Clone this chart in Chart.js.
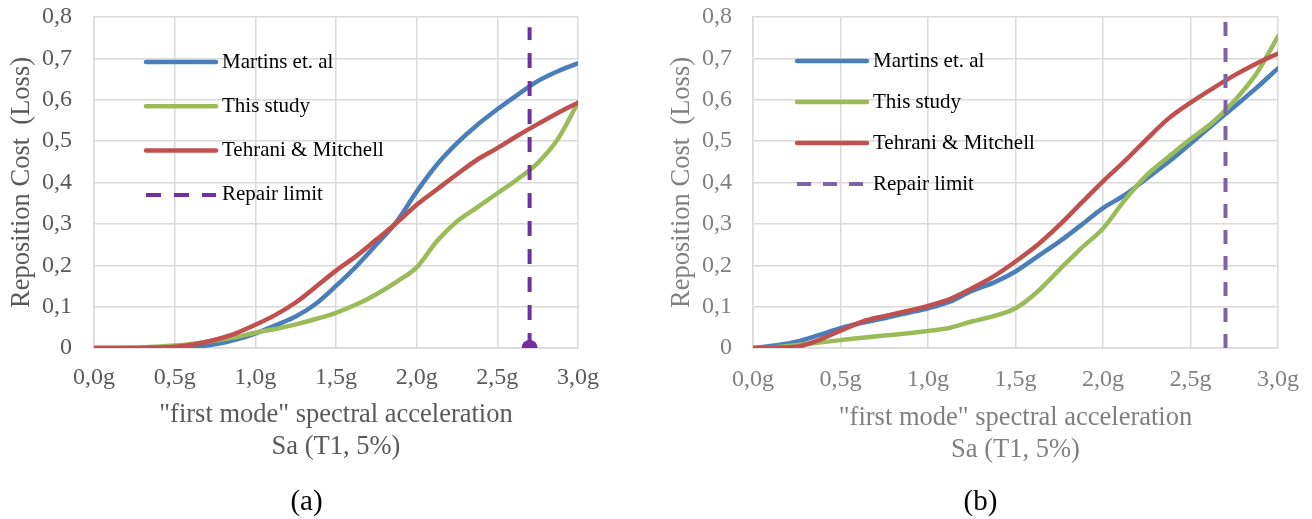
<!DOCTYPE html>
<html><head><meta charset="utf-8">
<script src="https://cdn.jsdelivr.net/npm/chart.js@4.4.1/dist/chart.umd.min.js"></script>
<style>
html,body{margin:0;padding:0;background:#fff;width:1312px;height:519px;overflow:hidden}
#wa{position:absolute;left:0;top:0;width:614px;height:519px}
#wb{position:absolute;left:648px;top:0;width:664px;height:519px}
</style></head><body>
<div id="wa"><canvas id="ca" width="614" height="519"></canvas></div>
<div id="wb"><canvas id="cb" width="664" height="519"></canvas></div>
<script>
// ---- data ----
const sa = [0,0.125,0.25,0.375,0.5,0.625,0.75,0.875,1,1.125,1.25,1.375,1.5,1.625,1.75,1.875,2,2.125,2.25,2.375,2.5,2.625,2.75,2.875,3];

const martinsA   = [0,0,0,0,0.0005,0.003,0.009,0.02,0.035,0.055,0.076,0.107,0.15,0.197,0.25,0.305,0.378,0.443,0.495,0.539,0.577,0.612,0.645,0.669,0.688];
const thisStudyA = [0,0,0.001,0.003,0.006,0.011,0.018,0.026,0.037,0.046,0.057,0.07,0.085,0.105,0.13,0.16,0.195,0.258,0.306,0.34,0.374,0.408,0.447,0.505,0.593];
const tehraniA   = [0,0,0,0.001,0.003,0.009,0.02,0.035,0.056,0.08,0.11,0.148,0.187,0.222,0.262,0.302,0.346,0.383,0.42,0.455,0.483,0.513,0.541,0.568,0.593];

const martinsB   = [0,0.006,0.015,0.031,0.048,0.061,0.072,0.084,0.096,0.112,0.138,0.158,0.185,0.221,0.257,0.297,0.338,0.37,0.41,0.45,0.494,0.539,0.583,0.628,0.676];
const thisStudyB = [0,0.002,0.007,0.013,0.019,0.025,0.03,0.035,0.041,0.049,0.064,0.077,0.096,0.136,0.189,0.241,0.289,0.358,0.418,0.462,0.505,0.545,0.597,0.662,0.753];
const tehraniB   = [0,0.001,0.003,0.019,0.042,0.064,0.077,0.089,0.102,0.118,0.144,0.173,0.209,0.249,0.297,0.35,0.403,0.452,0.505,0.555,0.593,0.627,0.659,0.687,0.712];

const repairLimitSa = 2.7;
const repairSpanA = [0, 0.775];
const repairSpanB = [0, 0.8];

const seriesNames = ['Martins et. al','This study','Tehrani & Mitchell','Repair limit'];
const xTickLabels = ['0,0g','0,5g','1,0g','1,5g','2,0g','2,5g','3,0g'];
const yTickLabels = ['0','0,1','0,2','0,3','0,4','0,5','0,6','0,7','0,8'];
const yTitle = 'Reposition Cost  (Loss)';
const xTitle = ['"first mode" spectral acceleration','Sa (T1, 5%)'];
const captions = ['(a)','(b)'];

// ---- drawing ----
const F = "'Liberation Serif','Times New Roman',serif";
Chart.defaults.font.family = F;

const pts = (xs, ys) => xs.map((x, i) => ({x: x, y: ys[i]}));

const insideLegend = {
  id: 'insideLegend',
  afterDatasetsDraw(chart, args, o) {
    const ctx = chart.ctx, area = chart.chartArea;
    ctx.save();
    chart.data.datasets.forEach((ds, i) => {
      const y = area.top + o.top + i * o.gap;
      const x0 = area.left + o.left, x1 = x0 + o.len;
      ctx.beginPath();
      ctx.strokeStyle = ds.borderColor;
      ctx.lineWidth = ds.borderWidth;
      ctx.setLineDash(ds.borderDash || []);
      ctx.lineCap = ds.borderDash ? 'butt' : 'round';
      ctx.moveTo(x0, y); ctx.lineTo(x1, y); ctx.stroke();
      ctx.setLineDash([]);
      ctx.fillStyle = '#000';
      ctx.font = o.size + 'px ' + F;
      ctx.textBaseline = 'middle'; ctx.textAlign = 'left';
      ctx.fillText(ds.label, x1 + o.textGap, y);
    });
    ctx.restore();
  }
};

const caption = {
  id: 'caption',
  afterDraw(chart, args, o) {
    const ctx = chart.ctx;
    ctx.save();
    ctx.fillStyle = '#000';
    ctx.font = o.size + 'px ' + F;
    ctx.textBaseline = 'middle'; ctx.textAlign = 'center';
    ctx.fillText(o.text, o.x, o.y);
    ctx.restore();
  }
};

function noPad(sc) { sc.paddingTop = 0; sc.paddingBottom = 0; sc.paddingLeft = 0; sc.paddingRight = 0; }

function makeChart(id, s) {
  const line = (label, ys, color, order) => ({
    label, data: pts(sa, ys), borderColor: color, backgroundColor: color,
    borderWidth: 4.5, borderCapStyle: 'round', borderJoinStyle: 'round',
    pointRadius: 0, cubicInterpolationMode: 'monotone', fill: false, order
  });
  const datasets = [
    line(seriesNames[0], s.blue, '#4A7EBB', 3),
    line(seriesNames[1], s.green, '#9BBB59', 2),
    line(seriesNames[2], s.red, '#C0504D', 1),
    {
      label: seriesNames[3],
      data: s.repair.map(v => ({x: repairLimitSa, y: v})),
      borderColor: s.dashColor, backgroundColor: s.dashColor,
      borderWidth: 4, borderDash: s.dash, borderCapStyle: 'butt',
      tension: 0, cubicInterpolationMode: 'default',
      pointRadius: s.marker, pointBorderWidth: 0, pointBackgroundColor: s.dashColor,
      fill: false, order: 0
    }
  ];
  const grid = {color: '#D9D9D9', lineWidth: 1.5, drawTicks: false};
  const border = {color: '#D9D9D9', width: 1.5};
  return new Chart(document.getElementById(id), {
    type: 'line',
    data: {datasets},
    plugins: [insideLegend, caption],
    options: {
      responsive: false, animation: false, devicePixelRatio: 1,
      layout: {padding: {left: 0, top: 17, right: s.padRight, bottom: 33.6}},
      scales: {
        x: {
          type: 'linear', min: 0, max: 3,
          grid, border,
          ticks: {stepSize: 0.5, autoSkip: false, maxRotation: 0, padding: s.xTickPad,
                  color: s.text, font: {size: 24}, callback: (v, i) => xTickLabels[i]},
          title: {display: true, text: xTitle, color: s.text,
                  font: {size: 26.5, lineHeight: 32 / 26.5}, padding: {top: 0, bottom: s.xTitlePad}},
          afterFit: sc => { sc.height = 137.4; noPad(sc); }
        },
        y: {
          min: 0, max: 0.8,
          grid, border,
          ticks: {stepSize: 0.1, autoSkip: false, padding: s.yTickPad,
                  color: s.text, font: {size: 24}, callback: (v, i) => yTickLabels[i]},
          title: {display: true, text: yTitle, color: s.text,
                  font: {size: 26.5, lineHeight: 32 / 26.5}, padding: {top: s.yTitlePad, bottom: 0}},
          afterFit: sc => { sc.width = s.yWidth; noPad(sc); }
        }
      },
      plugins: {
        legend: {display: false},
        tooltip: {enabled: false},
        insideLegend: s.legend,
        caption: s.caption
      }
    }
  });
}

makeChart('ca', {
  blue: martinsA, green: thisStudyA, red: tehraniA, repair: repairSpanA,
  dashColor: '#7030A0', dash: [15, 13], marker: [8, 0],
  text: '#595959', padRight: 36, yWidth: 94, yTickPad: 22, yTitlePad: 6,
  xTickPad: 15.6, xTitlePad: 22.4,
  caption: {text: captions[0], x: 306.5, y: 502, size: 29},
  legend: {left: 52, len: 70, top: 45, gap: 44.3, textGap: 6, size: 21}
});
makeChart('cb', {
  blue: martinsB, green: thisStudyB, red: tehraniB, repair: repairSpanB,
  dashColor: '#8064A2', dash: [14, 12], marker: 0,
  text: '#7F7F7F', padRight: 34, yWidth: 105, yTickPad: 21, yTitlePad: 18,
  xTickPad: 17.6, xTitlePad: 19.4,
  caption: {text: captions[1], x: 332.5, y: 502, size: 29},
  legend: {left: 44, len: 70, top: 44, gap: 41, textGap: 6, size: 21}
});
</script>
</body></html>
